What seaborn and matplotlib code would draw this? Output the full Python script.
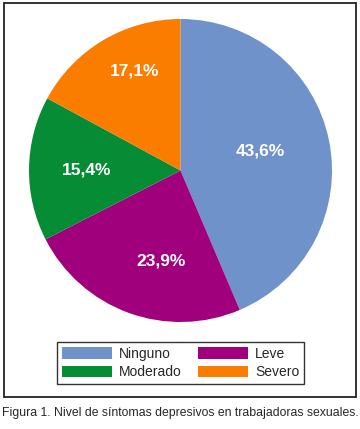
import numpy as np
import matplotlib
matplotlib.use("Agg")
import matplotlib.pyplot as plt
import matplotlib.patches as mpatches
import seaborn as sns

# Data
categories = ["Ninguno", "Leve", "Moderado", "Severo"]
percentages = [43.6, 23.9, 15.4, 17.1]
pct_labels = ["43,6%", "23,9%", "15,4%", "17,1%"]
colors = ["#7092CA", "#A1007D", "#078C36", "#FA7D00"]
caption = "Figura 1. Nivel de síntomas depresivos en trabajadoras sexuales."

sns.set_theme(style="white")
plt.rcParams["font.family"] = ["Liberation Sans", "DejaVu Sans"]

fig = plt.figure(figsize=(3.6, 4.29), dpi=100)

# outer frame
fig.patches.append(mpatches.Rectangle((4 / 360, 32 / 429), 352 / 360, 394 / 429,
                                      transform=fig.transFigure, fill=False,
                                      edgecolor="#222222", linewidth=1.3))

ax = fig.add_axes([29 / 360, 107 / 429, 303 / 360, 303 / 429])
wedges, _ = ax.pie(percentages, colors=colors, startangle=90, counterclock=False,
                   radius=1, wedgeprops=dict(linewidth=0))
ax.set_xlim(-1, 1)
ax.set_ylim(-1, 1)
ax.set_aspect("equal")
ax.axis("off")

# percentage labels near each wedge's bisector (small nudges like the original)
label_r = [0.54, 0.61, 0.62, 0.72]
label_dang = [2.3, 8.0, 0.7, -6.0]
for w, lab, r, da in zip(wedges, pct_labels, label_r, label_dang):
    ang = np.deg2rad((w.theta1 + w.theta2) / 2 + da)
    ax.text(r * np.cos(ang), r * np.sin(ang), lab, ha="center", va="center",
            color="white", fontsize=12.5, fontweight="bold")

# legend: column-wise order Ninguno, Moderado | Leve, Severo
order = [0, 2, 1, 3]
handles = [mpatches.Patch(facecolor=colors[i], edgecolor="none") for i in order]
leg = fig.legend(handles, [categories[i] for i in order], ncol=2, loc="center",
                 bbox_to_anchor=(180.5 / 360, (429 - 363) / 429), fontsize=10,
                 frameon=True, fancybox=False, edgecolor="black",
                 handlelength=3.6, handleheight=0.9, handletextpad=0.5,
                 columnspacing=1.2, borderpad=0.35, labelspacing=0.35)
leg.get_frame().set_linewidth(1.0)

fig.text(180 / 360, (429 - 413) / 429, caption, ha="center", va="center",
         fontsize=8.8)

fig.savefig("out.png", dpi=100)
